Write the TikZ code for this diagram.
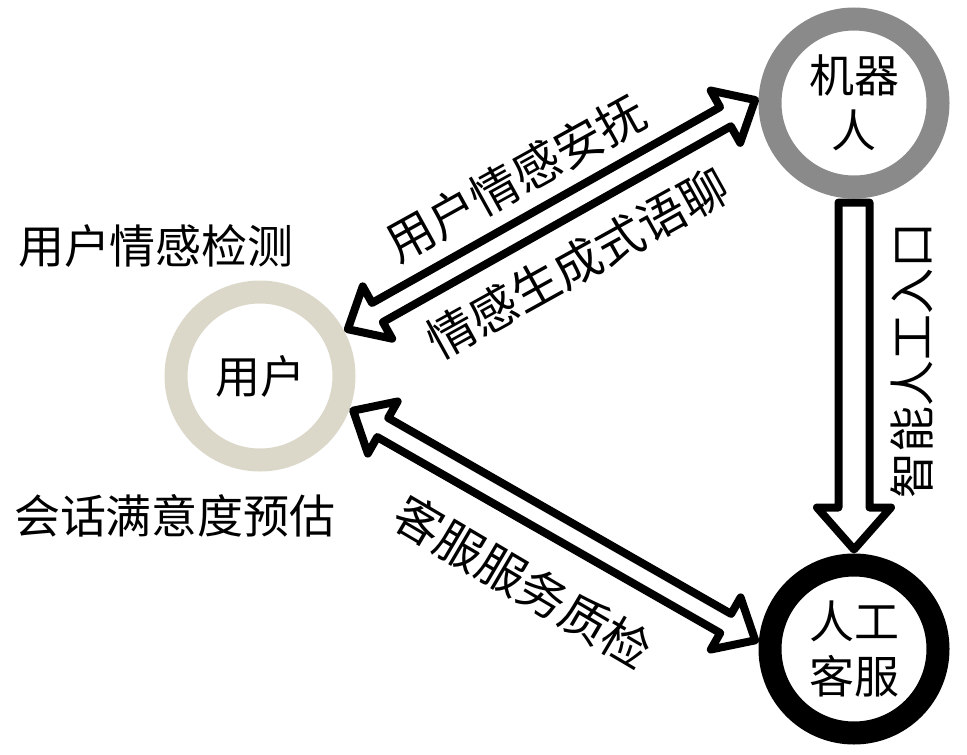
\documentclass[tikz,border=0pt]{standalone}
\usepackage{fontspec}
\setmainfont{Noto Sans CJK SC}
\usetikzlibrary{calc,positioning}
\definecolor{Sand}{RGB}{219,216,202}
\definecolor{Steel}{RGB}{138,138,138}
\newcommand{\TwoWay}[2]{%
  \draw[hollow] let \p1=(#1), \p2=(#2),
    \n1={atan2(\y2-\y1,\x2-\x1)}, \n2={veclen(\x2-\x1,\y2-\y1)} in
    [shift={(\p1)}, rotate=\n1]
    (4pt,0pt) -- (38pt,30pt) -- (38pt,11pt) -- ({\n2-38pt},11pt) -- ({\n2-38pt},30pt)
    -- ({\n2-4pt},0pt) -- ({\n2-38pt},-30pt) -- ({\n2-38pt},-11pt) -- (38pt,-11pt)
    -- (38pt,-30pt) -- cycle;}
\newcommand{\OneWay}[2]{%
  \draw[hollow] let \p1=(#1), \p2=(#2),
    \n1={atan2(\y2-\y1,\x2-\x1)}, \n2={veclen(\x2-\x1,\y2-\y1)} in
    [shift={(\p1)}, rotate=\n1]
    (4pt,15.5pt) -- ({\n2-46pt},15.5pt) -- ({\n2-46pt},37pt) -- ({\n2-4pt},0pt)
    -- ({\n2-46pt},-37pt) -- ({\n2-46pt},-15.5pt) -- (4pt,-15.5pt) -- cycle;}

\begin{document}
\begin{tikzpicture}[
  x=1pt, y=-1pt,
  node distance=355pt,
  ring/.style={circle, line width=23pt, minimum size=168pt, inner sep=0pt, align=center,
    font=\fontsize{45}{55}\selectfont},
  user/.style={ring, draw=Sand},
  bot/.style={ring, draw=Steel},
  agent/.style={ring, draw=black},
  note/.style={inner sep=0pt, font=\fontsize{46}{46}\selectfont},
  flowtext/.style={inner sep=0pt, font=\fontsize{48}{48}\selectfont},
  hollow/.style={draw=black, fill=white, line width=8pt, line join=round}
]
  \useasboundingbox (0,0) rectangle (967,755);

  \node[user] (usr) at (260,376) {用户};
  \node[bot] (bot) at (854,103) {机器\\人};
  \node[agent, below=of bot] (hum) {人工\\客服};

  \node[note] (detect) at (156,246) {用户情感检测};
  \node[note] (satis) at (175,516) {会话满意度预估};

  \TwoWay{usr.28}{bot.177}
  \TwoWay{usr.-20}{hum.176}
  \OneWay{bot.south}{hum.north}

  \node[flowtext, rotate=29] (soothe) at (516,178) {用户情感安抚};
  \node[flowtext, rotate=29] (chat) at (578,263) {情感生成式语聊};
  \node[flowtext, rotate=-30.5] (qc) at (523,582) {客服服务质检};
  \node[note, rotate=90] (handoff) at (912,360) {智能人工入口};
\end{tikzpicture}
\end{document}
